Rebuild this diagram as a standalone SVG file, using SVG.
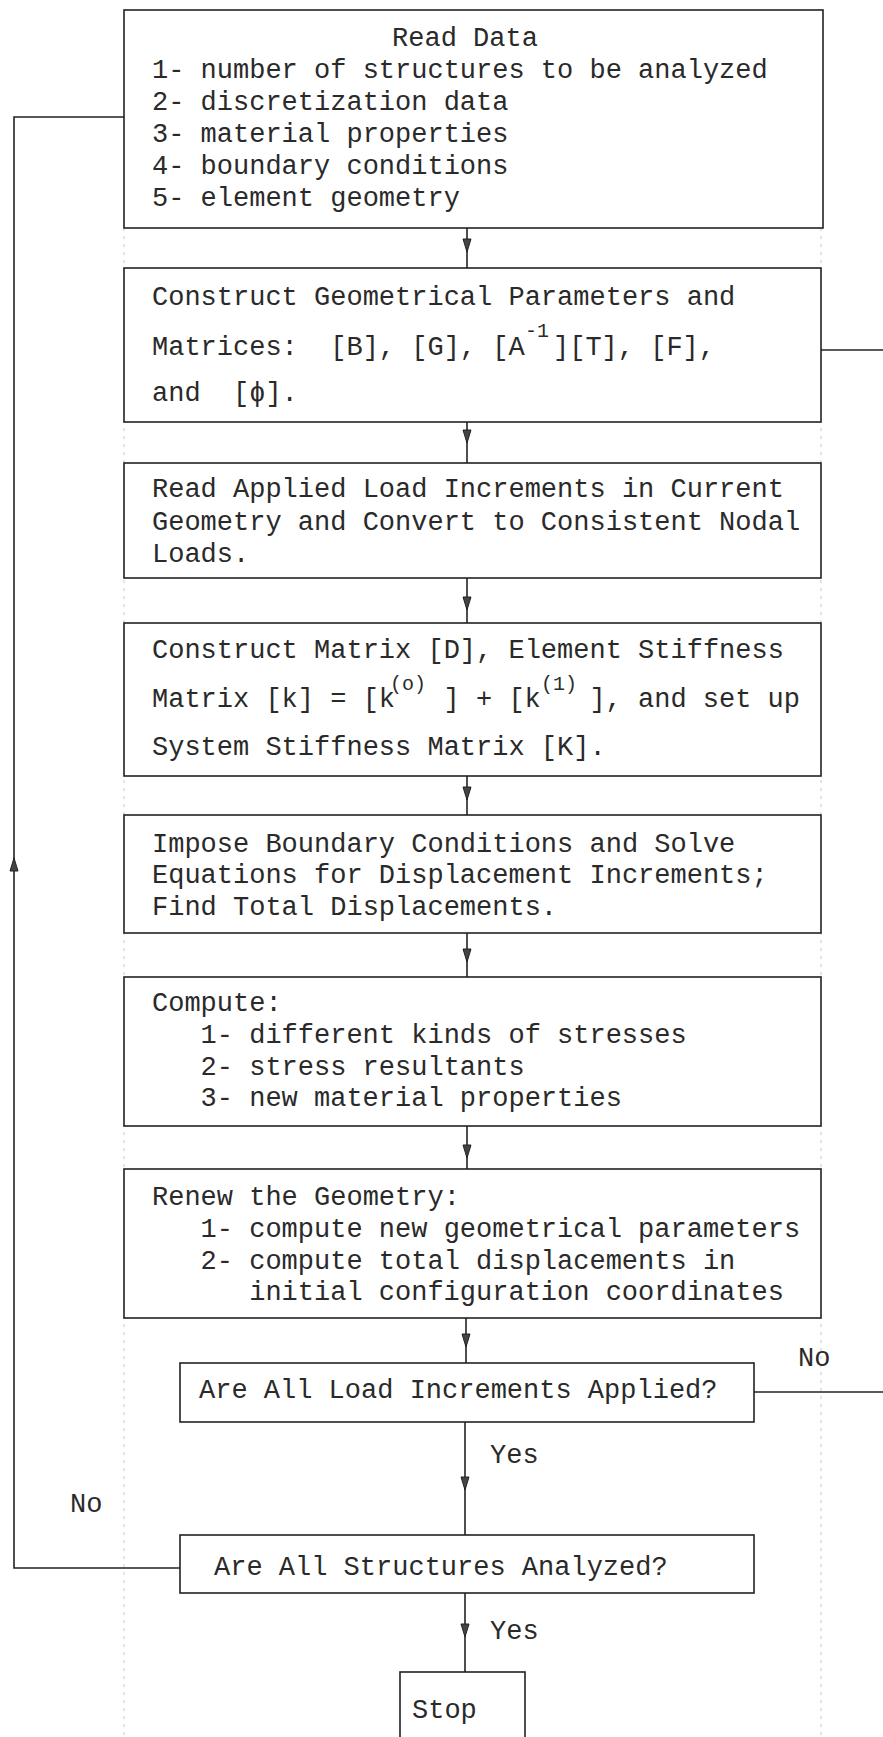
<svg xmlns="http://www.w3.org/2000/svg" width="883" height="1737" viewBox="0 0 883 1737">
<style>
.box{fill:#fff;stroke:#222;stroke-width:1.6}
.t{font-family:"Liberation Mono","DejaVu Sans Mono",monospace;font-size:27px;fill:#2a2a2a;white-space:pre}
.sup{font-family:"Liberation Mono","DejaVu Sans Mono",monospace;font-size:20px;fill:#2a2a2a}
.c{stroke:#222;stroke-width:1.6;fill:none}
.g{stroke:#c8c8c8;stroke-width:1;stroke-dasharray:3 5;fill:none}
.ah{fill:#444;stroke:#222;stroke-width:1}
</style>
<defs>
<path id="ad" class="ah" d="M-4,-13 L4,-13 L0,0 Z"/>
</defs>
<rect width="883" height="1737" fill="#fff"/>
<g id="guides">
<line class="g" x1="124" y1="228" x2="124" y2="1737"/>
<line class="g" x1="821" y1="228" x2="821" y2="1737"/>
</g>
<g id="connectors">
<line class="c" x1="467" y1="228" x2="467" y2="268"/>
<use href="#ad" x="467" y="252"/>
<line class="c" x1="467" y1="422" x2="467" y2="463"/>
<use href="#ad" x="467" y="443"/>
<line class="c" x1="467" y1="578" x2="467" y2="623"/>
<use href="#ad" x="467" y="610"/>
<line class="c" x1="467" y1="776" x2="467" y2="815"/>
<use href="#ad" x="467" y="800"/>
<line class="c" x1="467" y1="933" x2="467" y2="977"/>
<use href="#ad" x="467" y="962"/>
<line class="c" x1="467" y1="1126" x2="467" y2="1169"/>
<use href="#ad" x="467" y="1158"/>
<line class="c" x1="466" y1="1318" x2="466" y2="1363"/>
<use href="#ad" x="466" y="1347"/>
<line class="c" x1="465" y1="1422" x2="465" y2="1535"/>
<use href="#ad" x="465" y="1490"/>
<line class="c" x1="465" y1="1593" x2="465" y2="1672"/>
<use href="#ad" x="465" y="1637"/>
<line class="c" x1="821" y1="350" x2="883" y2="350"/>
<line class="c" x1="754" y1="1392" x2="883" y2="1392"/>
<polyline class="c" points="180,1568 14,1568 14,117 124,117"/>
<use href="#ad" transform="translate(14,858) rotate(180)"/>
<text class="t" x="798" y="1366">No</text>
<text class="t" x="490" y="1463">Yes</text>
<text class="t" x="70" y="1512">No</text>
<text class="t" x="490" y="1639">Yes</text>
</g>
<g id="n1">
<rect class="box" x="124" y="10" width="699" height="218"/>
<text class="t" x="465" y="46" text-anchor="middle">Read Data</text>
<text class="t" x="152" y="78">1- number of structures to be analyzed</text>
<text class="t" x="152" y="110">2- discretization data</text>
<text class="t" x="152" y="142">3- material properties</text>
<text class="t" x="152" y="174">4- boundary conditions</text>
<text class="t" x="152" y="206">5- element geometry</text>
</g>
<g id="n2">
<rect class="box" x="124" y="268" width="697" height="154"/>
<text class="t" x="152" y="305">Construct Geometrical Parameters and</text>
<text class="t" x="152" y="355">Matrices:  [B], [G], [A</text>
<text class="sup" x="525" y="337">-1</text>
<text class="t" x="553" y="355">][T], [F],</text>
<text class="t" x="152" y="401">and  [ϕ].</text>
</g>
<g id="n3">
<rect class="box" x="124" y="463" width="697" height="115"/>
<text class="t" x="152" y="497">Read Applied Load Increments in Current</text>
<text class="t" x="152" y="530">Geometry and Convert to Consistent Nodal</text>
<text class="t" x="152" y="562">Loads.</text>
</g>
<g id="n4">
<rect class="box" x="124" y="623" width="697" height="153"/>
<text class="t" x="152" y="658">Construct Matrix [D], Element Stiffness</text>
<text class="t" x="152" y="707">Matrix [k] = [k</text>
<text class="sup" x="390" y="690">(o)</text>
<text class="t" x="443.6" y="707">] + [k</text>
<text class="sup" x="541" y="690">(1)</text>
<text class="t" x="589.4" y="707">], and set up</text>
<text class="t" x="152" y="755">System Stiffness Matrix [K].</text>
</g>
<g id="n5">
<rect class="box" x="124" y="815" width="697" height="118"/>
<text class="t" x="152" y="852">Impose Boundary Conditions and Solve</text>
<text class="t" x="152" y="883">Equations for Displacement Increments;</text>
<text class="t" x="152" y="915">Find Total Displacements.</text>
</g>
<g id="n6">
<rect class="box" x="124" y="977" width="697" height="149"/>
<text class="t" x="152" y="1011">Compute:</text>
<text class="t" x="200.6" y="1043">1- different kinds of stresses</text>
<text class="t" x="200.6" y="1075">2- stress resultants</text>
<text class="t" x="200.6" y="1106">3- new material properties</text>
</g>
<g id="n7">
<rect class="box" x="124" y="1169" width="697" height="149"/>
<text class="t" x="152" y="1205">Renew the Geometry:</text>
<text class="t" x="200.6" y="1237">1- compute new geometrical parameters</text>
<text class="t" x="200.6" y="1269">2- compute total displacements in</text>
<text class="t" x="249.2" y="1300">initial configuration coordinates</text>
</g>
<g id="n8">
<rect class="box" x="180" y="1363" width="574" height="59"/>
<text class="t" x="199" y="1398">Are All Load Increments Applied?</text>
</g>
<g id="n9">
<rect class="box" x="180" y="1535" width="574" height="58"/>
<text class="t" x="214" y="1575">Are All Structures Analyzed?</text>
</g>
<g id="n10">
<rect class="box" x="400" y="1672" width="125" height="80"/>
<text class="t" x="412" y="1718">Stop</text>
</g>
</svg>
